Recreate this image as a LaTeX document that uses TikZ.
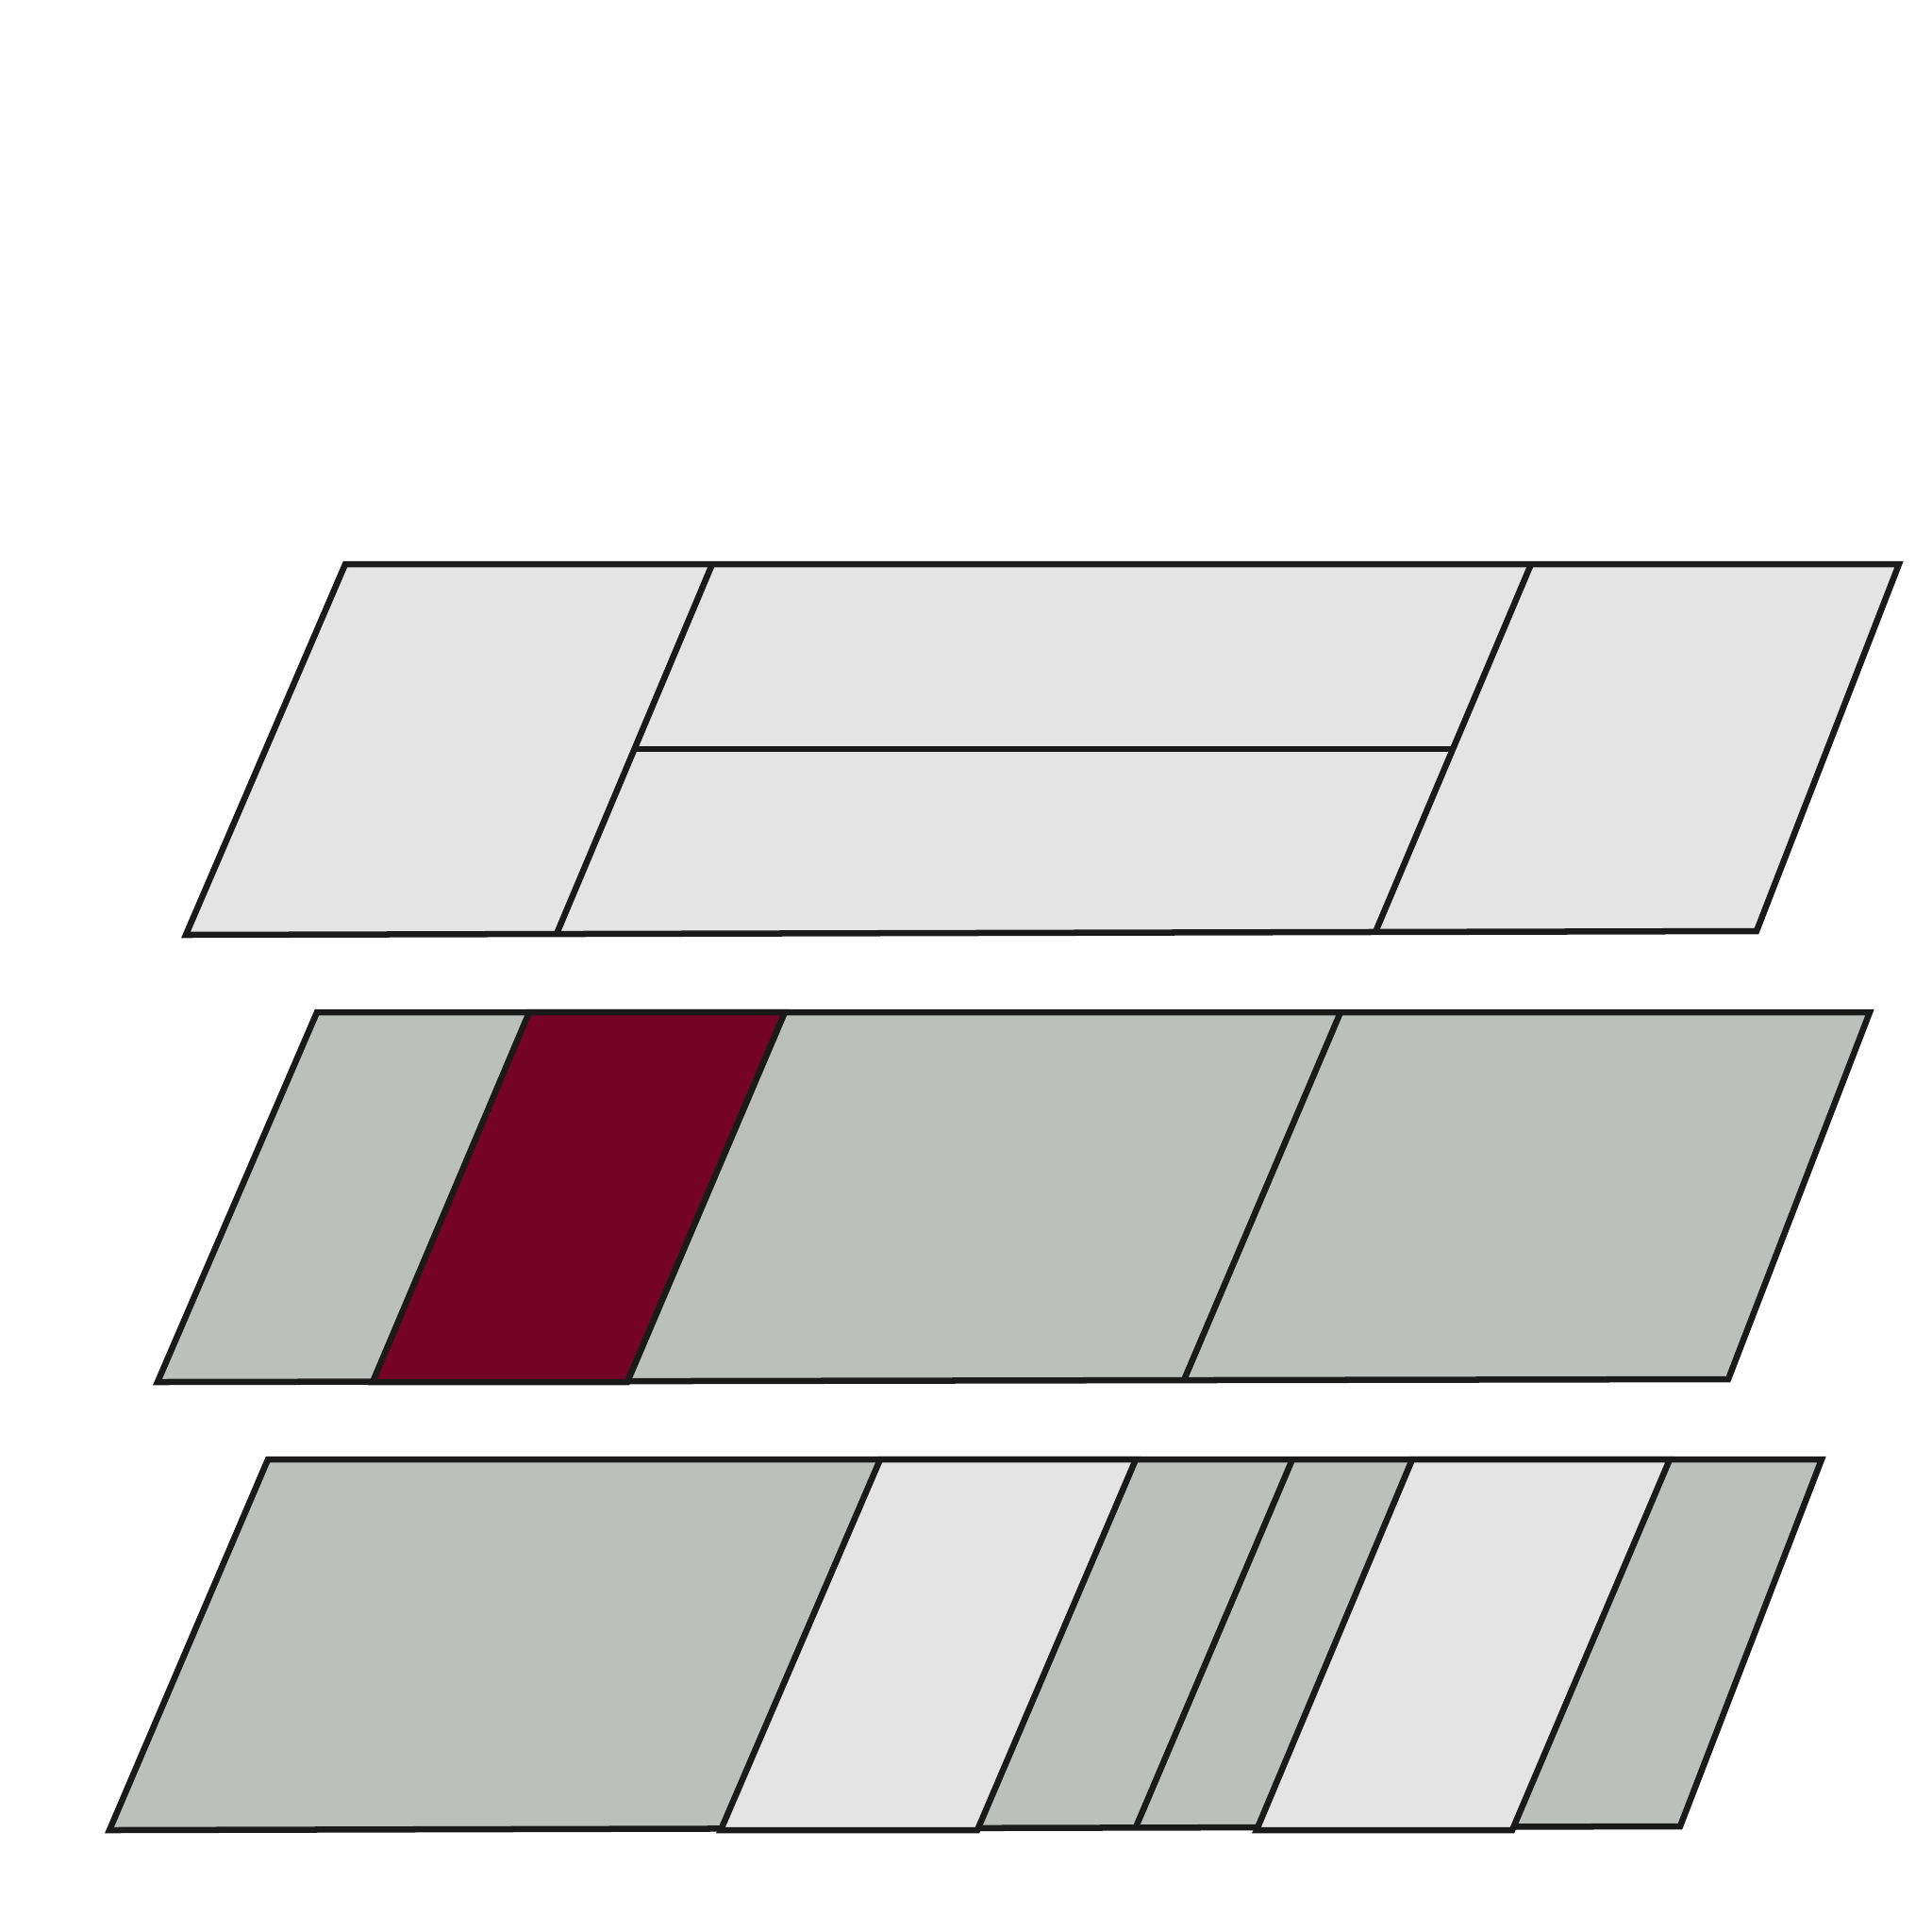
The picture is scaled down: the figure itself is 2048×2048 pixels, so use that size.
\documentclass[tikz,border=0pt]{standalone}
\begin{document}
\begin{tikzpicture}[x=0.01cm,y=-0.01cm,line width=1.85pt,
  edge/.style={draw={rgb,255:red,26;green,26;blue,26}},
  lightcell/.style={edge,fill={rgb,255:red,228;green,228;blue,228}},
  graycell/.style={edge,fill={rgb,255:red,187;green,192;blue,188}},
  redcell/.style={edge,fill={rgb,255:red,116;green,3;blue,39}}]
\useasboundingbox (0,0) rectangle (2048,2048);
% top slab
\coordinate (a1) at (366,598);
\coordinate (a2) at (2013,598);
\coordinate (a3) at (1862,987);
\coordinate (a4) at (197,991);
\coordinate (ad1t) at (755,598);
\coordinate (ad1b) at (590,990);
\coordinate (ad2t) at (1623,598);
\coordinate (ad2b) at (1458,988);
\coordinate (ah1) at (673,794);
\coordinate (ah2) at (1540,794);
\path[lightcell] (a1) -- (a2) -- (a3) -- (a4) -- cycle;
\draw[edge] (ad1t) -- (ad1b);
\draw[edge] (ad2t) -- (ad2b);
\draw[edge] (ah1) -- (ah2);
% middle slab
\coordinate (b1) at (336,1073);
\coordinate (b2) at (1982,1073);
\coordinate (b3) at (1832,1462);
\coordinate (b4) at (167,1465);
\coordinate (r1) at (561,1073);
\coordinate (r2) at (832,1073);
\coordinate (r3) at (665,1465);
\coordinate (r4) at (395,1465);
\coordinate (bdt) at (1421,1073);
\coordinate (bdb) at (1255,1463);
\path[graycell] (b1) -- (b2) -- (b3) -- (b4) -- cycle;
\path[redcell] (r1) -- (r2) -- (r3) -- (r4) -- cycle;
\draw[edge] (bdt) -- (bdb);
% bottom slab
\coordinate (c1) at (284,1547);
\coordinate (c2) at (1931,1547);
\coordinate (c3) at (1781,1936);
\coordinate (c4) at (116,1940);
\coordinate (w1) at (933,1547);
\coordinate (w2) at (1204,1547);
\coordinate (w3) at (1036,1940);
\coordinate (w4) at (764,1940);
\coordinate (v1) at (1497,1547);
\coordinate (v2) at (1770,1547);
\coordinate (v3) at (1603,1940);
\coordinate (v4) at (1332,1940);
\coordinate (cdt) at (1370,1547);
\coordinate (cdb) at (1204,1937);
\path[graycell] (c1) -- (c2) -- (c3) -- (c4) -- cycle;
\path[lightcell] (w1) -- (w2) -- (w3) -- (w4) -- cycle;
\path[lightcell] (v1) -- (v2) -- (v3) -- (v4) -- cycle;
\draw[edge] (cdt) -- (cdb);
\end{tikzpicture}
\end{document}
